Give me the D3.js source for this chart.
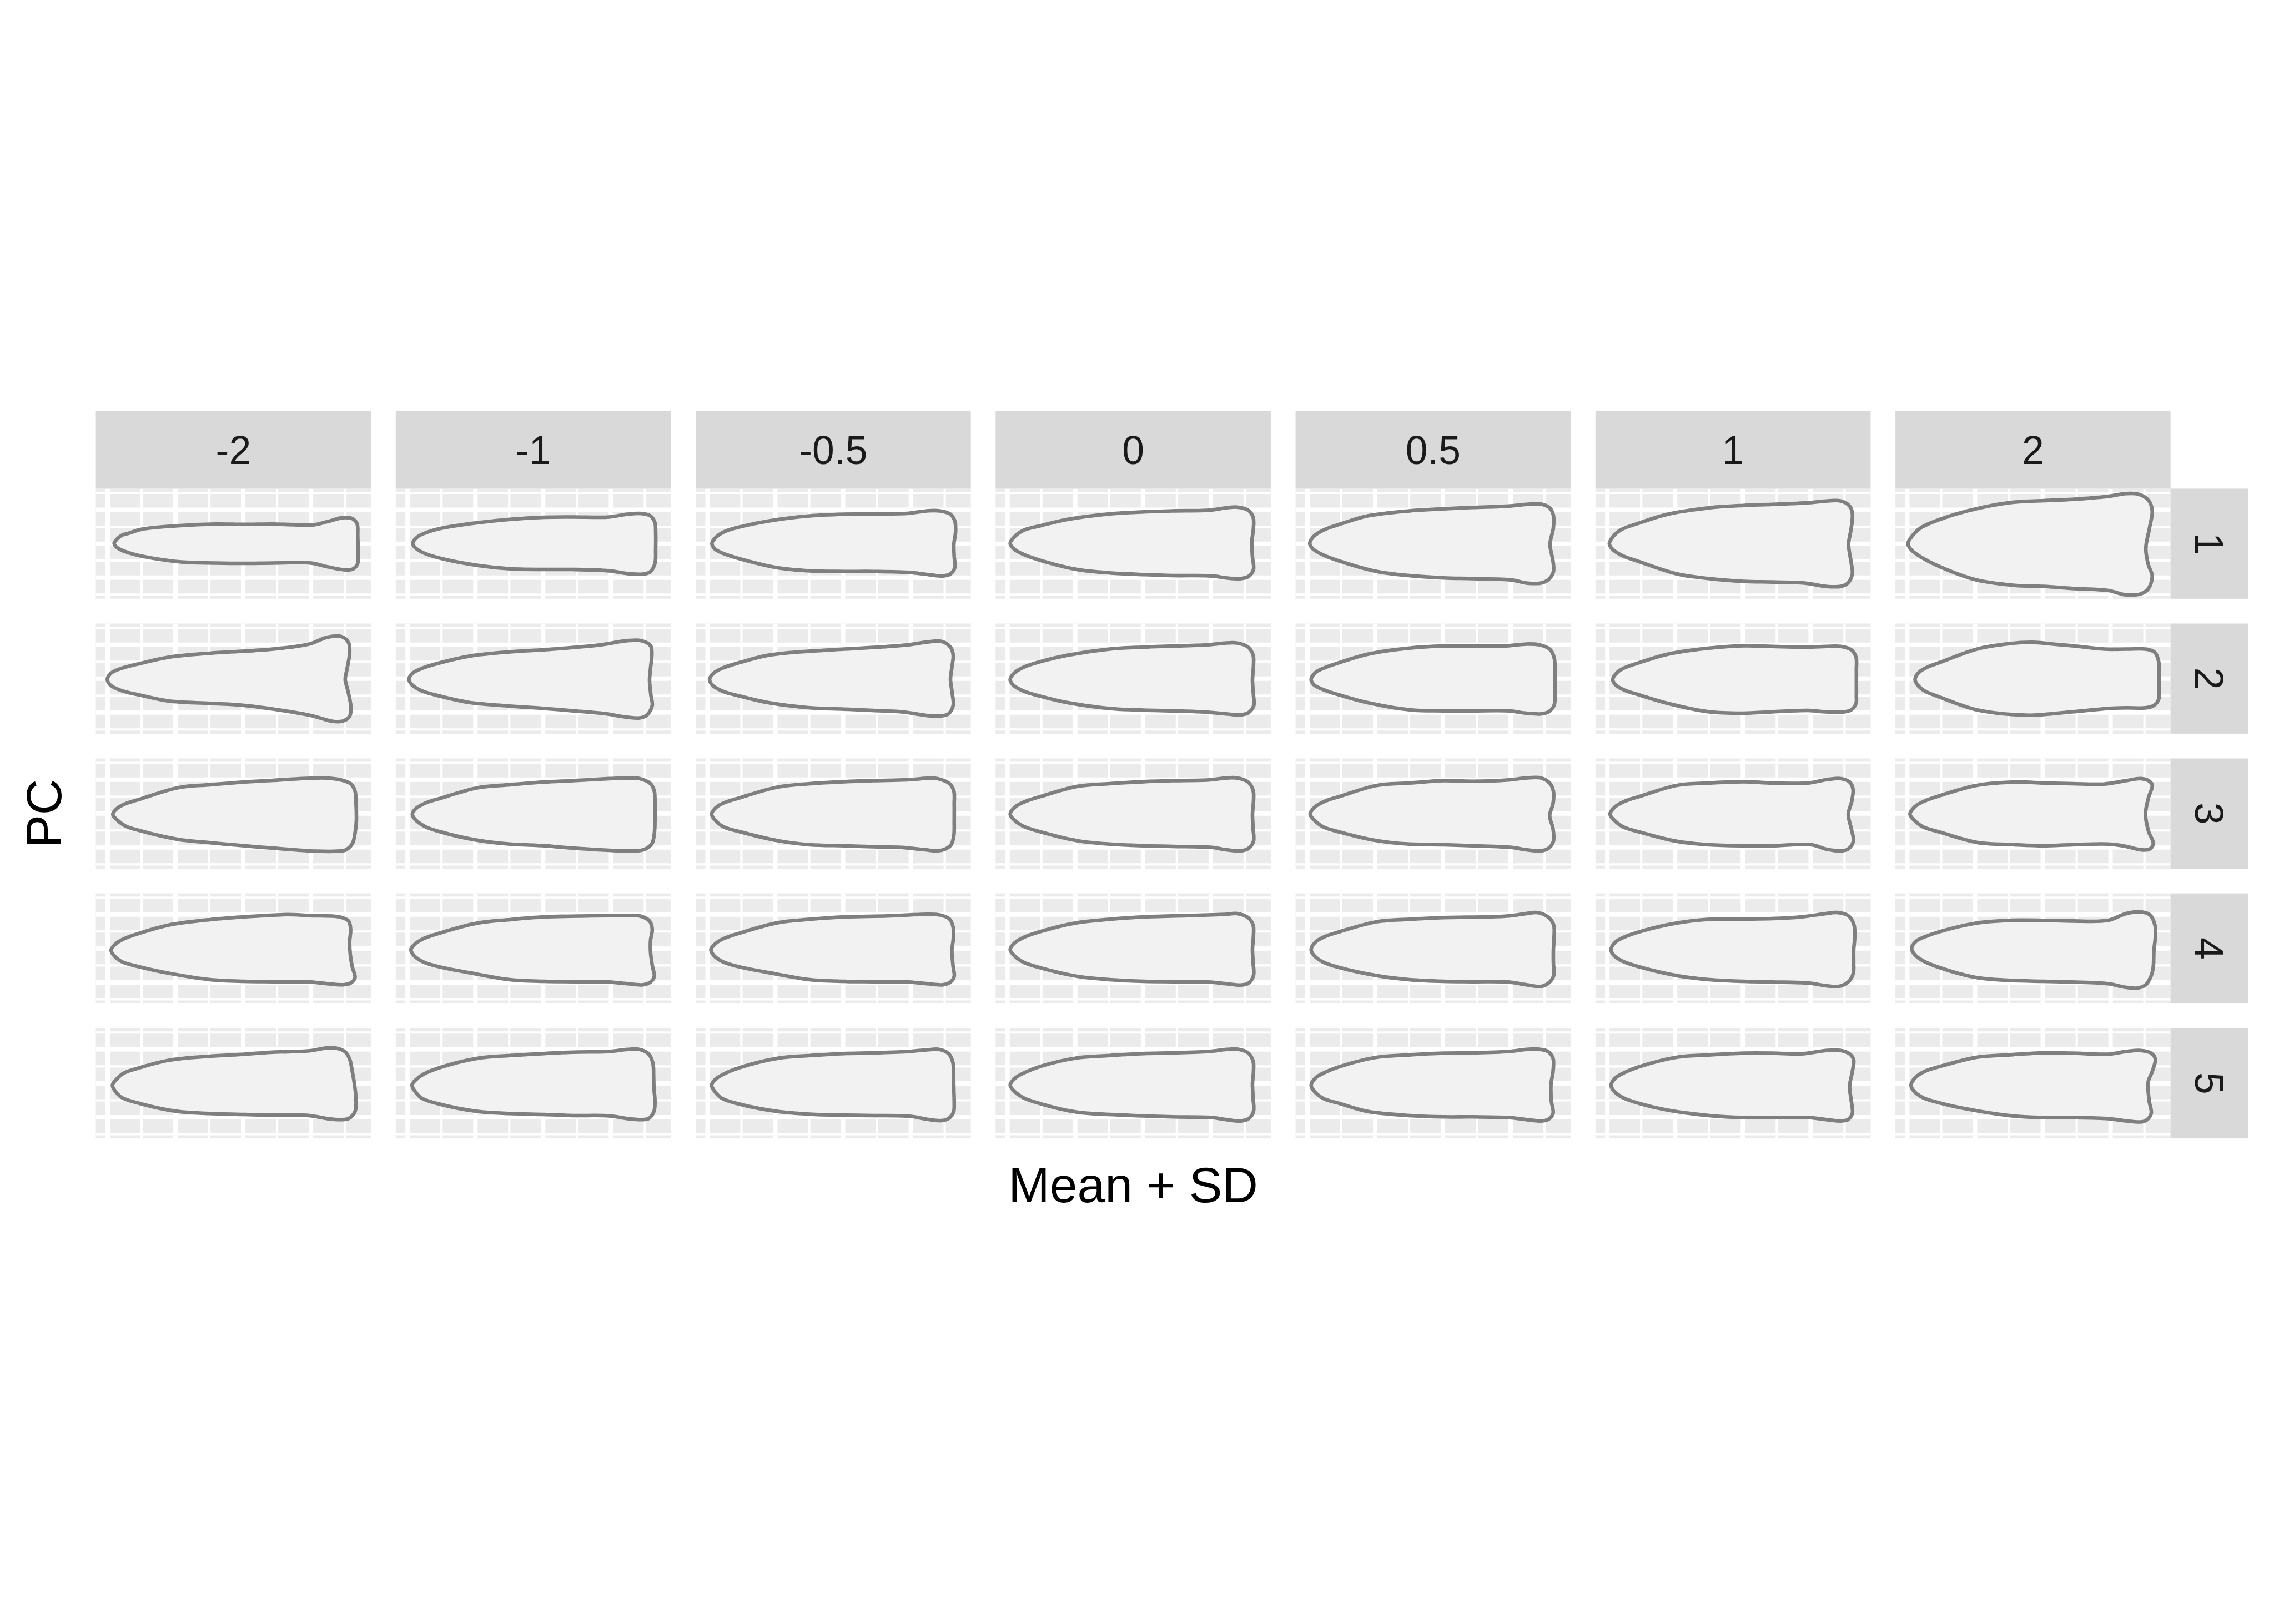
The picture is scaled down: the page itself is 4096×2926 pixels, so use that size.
<!DOCTYPE html>
<html>
<head>
<meta charset="utf-8">
<script src="https://cdn.jsdelivr.net/npm/d3@7"></script>
<style>
  html, body { margin: 0; padding: 0; background: #ffffff; }
  svg { display: block; }
</style>
</head>
<body>
<script>
// ---------------- data ----------------
const sdLevels = ["-2", "-1", "-0.5", "0", "0.5", "1", "2"];
const pcLevels = ["1", "2", "3", "4", "5"];
const xTitle = "Mean + SD";
const yTitle = "PC";

const xDomain = [-4.35, 3.77];
const yDomain = [-1.625, 1.625];
const xMajorBreaks = [-4, -2, 0, 2];
const xMinorBreaks = [-3, -1, 1, 3];
const yMajorBreaks = [-1, 0, 1];
const yMinorBreaks = [-1.5, -0.5, 0.5, 1.5];

// outlines, one per SD level (order of sdLevels), traced as [x, y]
const pc1 = [
  [[-3.81,0.01],[-3.71,0.15],[-3.58,0.25],[-3.37,0.31],[-3.03,0.42],[-1.93,0.53],[-0.82,0.58],[0.03,0.57],[0.88,0.58],[2.10,0.56],[2.48,0.65],[2.95,0.77],[3.22,0.74],[3.36,0.59],[3.38,0.22],[3.39,-0.27],[3.38,-0.58],[3.25,-0.74],[3.01,-0.77],[2.48,-0.68],[2.00,-0.57],[0.88,-0.57],[0.03,-0.58],[-0.82,-0.57],[-1.83,-0.54],[-3.03,-0.36],[-3.37,-0.27],[-3.63,-0.17],[-3.75,-0.09]],
  [[-3.85,0.01],[-3.71,0.20],[-3.47,0.32],[-3.03,0.45],[-1.93,0.62],[-0.98,0.72],[0.03,0.78],[0.88,0.79],[1.95,0.79],[2.48,0.87],[2.90,0.89],[3.17,0.82],[3.30,0.62],[3.32,0.35],[3.32,-0.15],[3.30,-0.58],[3.17,-0.82],[3.01,-0.89],[2.58,-0.89],[1.95,-0.80],[0.88,-0.76],[0.03,-0.76],[-0.98,-0.74],[-1.93,-0.64],[-3.03,-0.43],[-3.53,-0.27],[-3.77,-0.12]],
  [[-3.87,0.01],[-3.74,0.20],[-3.47,0.37],[-3.03,0.50],[-2.20,0.67],[-0.98,0.82],[0.03,0.87],[0.88,0.88],[1.95,0.90],[2.48,0.97],[2.85,0.97],[3.17,0.87],[3.30,0.66],[3.32,0.35],[3.27,-0.02],[3.28,-0.39],[3.30,-0.70],[3.17,-0.89],[2.95,-0.95],[2.58,-0.92],[2.00,-0.85],[0.88,-0.82],[0.03,-0.82],[-0.98,-0.80],[-1.93,-0.71],[-3.03,-0.45],[-3.53,-0.29],[-3.79,-0.15]],
  [[-3.92,0.01],[-3.78,0.22],[-3.49,0.41],[-3.03,0.53],[-2.22,0.72],[-0.99,0.88],[0.02,0.94],[0.87,0.97],[1.93,0.99],[2.46,1.06],[2.78,1.08],[3.10,0.99],[3.25,0.78],[3.26,0.47],[3.21,0.04],[3.23,-0.39],[3.26,-0.76],[3.12,-0.96],[2.89,-1.03],[2.46,-1.01],[2.03,-0.95],[0.87,-0.94],[0.02,-0.91],[-0.99,-0.86],[-1.95,-0.76],[-3.03,-0.49],[-3.54,-0.31],[-3.81,-0.15]],
  [[-3.93,0.01],[-3.81,0.22],[-3.49,0.42],[-3.03,0.58],[-2.22,0.82],[-0.99,0.97],[0.02,1.03],[0.87,1.07],[1.93,1.11],[2.46,1.16],[2.89,1.17],[3.15,1.06],[3.26,0.84],[3.26,0.47],[3.16,-0.02],[3.25,-0.52],[3.26,-0.83],[3.10,-1.07],[2.89,-1.16],[2.46,-1.16],[2.03,-1.07],[0.87,-1.03],[0.02,-1.01],[-0.99,-0.94],[-1.95,-0.82],[-3.03,-0.52],[-3.54,-0.33],[-3.84,-0.15]],
  [[-3.94,0.00],[-3.84,0.20],[-3.60,0.41],[-3.03,0.62],[-2.22,0.87],[-0.99,1.06],[0.02,1.13],[0.87,1.16],[1.93,1.21],[2.46,1.26],[2.89,1.26],[3.15,1.11],[3.23,0.90],[3.20,0.47],[3.12,-0.02],[3.20,-0.58],[3.23,-0.89],[3.10,-1.16],[2.89,-1.26],[2.46,-1.26],[1.82,-1.16],[0.87,-1.13],[0.02,-1.11],[-0.99,-1.03],[-1.95,-0.89],[-3.03,-0.54],[-3.60,-0.33],[-3.86,-0.15]],
  [[-3.98,0.00],[-3.86,0.22],[-3.60,0.47],[-3.03,0.72],[-2.22,0.97],[-0.99,1.21],[0.02,1.27],[0.87,1.31],[1.93,1.40],[2.46,1.48],[2.83,1.46],[3.12,1.28],[3.23,0.97],[3.15,0.47],[3.04,-0.15],[3.12,-0.64],[3.23,-0.95],[3.12,-1.32],[2.89,-1.48],[2.46,-1.51],[1.93,-1.38],[0.87,-1.32],[0.02,-1.26],[-0.83,-1.23],[-1.95,-1.07],[-3.03,-0.68],[-3.60,-0.39],[-3.89,-0.17]]
];

const pc2 = [
  [[-4.01,-0.02],[-3.90,0.16],[-3.63,0.29],[-3.03,0.45],[-2.20,0.63],[-0.98,0.75],[0.03,0.81],[0.88,0.87],[1.95,1.02],[2.48,1.22],[2.90,1.24],[3.11,1.06],[3.14,0.75],[3.06,0.26],[3.01,-0.02],[3.09,-0.36],[3.18,-0.86],[3.14,-1.11],[2.95,-1.25],[2.64,-1.26],[2.05,-1.10],[1.41,-0.98],[0.03,-0.79],[-0.98,-0.73],[-2.20,-0.66],[-3.03,-0.49],[-3.63,-0.34],[-3.93,-0.18]],
  [[-3.96,-0.02],[-3.85,0.16],[-3.58,0.30],[-3.03,0.47],[-2.20,0.66],[-0.98,0.79],[0.03,0.85],[0.88,0.92],[1.73,1.00],[2.48,1.12],[2.90,1.12],[3.17,0.97],[3.21,0.75],[3.17,0.32],[3.14,-0.05],[3.18,-0.49],[3.22,-0.79],[3.06,-1.08],[2.85,-1.16],[2.48,-1.14],[1.79,-1.03],[0.88,-0.95],[0.03,-0.88],[-0.98,-0.81],[-2.20,-0.70],[-3.03,-0.52],[-3.58,-0.36],[-3.87,-0.18]],
  [[-3.94,-0.02],[-3.82,0.16],[-3.58,0.30],[-3.03,0.48],[-2.20,0.69],[-0.98,0.81],[0.03,0.87],[0.88,0.92],[1.95,1.00],[2.48,1.08],[2.90,1.10],[3.17,0.93],[3.25,0.69],[3.21,0.32],[3.17,-0.02],[3.22,-0.42],[3.25,-0.79],[3.11,-1.04],[2.90,-1.10],[2.58,-1.10],[1.73,-0.98],[0.88,-0.94],[0.03,-0.90],[-0.98,-0.86],[-2.20,-0.71],[-3.03,-0.52],[-3.58,-0.36],[-3.87,-0.18]],
  [[-3.92,-0.02],[-3.78,0.18],[-3.49,0.35],[-3.03,0.50],[-2.22,0.69],[-0.99,0.87],[0.02,0.93],[0.87,0.96],[1.93,1.00],[2.46,1.05],[2.78,1.05],[3.10,0.93],[3.25,0.69],[3.26,0.38],[3.23,-0.05],[3.26,-0.49],[3.27,-0.79],[3.12,-1.00],[2.89,-1.07],[2.46,-1.04],[1.72,-0.98],[0.87,-0.95],[0.02,-0.93],[-0.99,-0.88],[-2.22,-0.71],[-3.03,-0.52],[-3.54,-0.36],[-3.84,-0.18]],
  [[-3.89,-0.02],[-3.76,0.18],[-3.49,0.32],[-3.03,0.48],[-2.22,0.72],[-0.99,0.90],[0.02,0.96],[0.87,0.96],[1.93,0.97],[2.46,1.02],[2.83,1.00],[3.15,0.87],[3.28,0.63],[3.31,0.26],[3.31,-0.11],[3.31,-0.49],[3.28,-0.79],[3.12,-0.98],[2.89,-1.04],[2.46,-1.02],[1.93,-0.95],[0.87,-0.95],[0.02,-0.95],[-0.99,-0.92],[-2.22,-0.71],[-3.03,-0.49],[-3.49,-0.34],[-3.81,-0.18]],
  [[-3.84,-0.02],[-3.70,0.19],[-3.49,0.32],[-3.03,0.48],[-2.22,0.72],[-0.99,0.90],[0.02,0.97],[0.87,0.95],[1.93,0.93],[2.46,0.95],[2.89,0.95],[3.20,0.85],[3.34,0.63],[3.35,0.26],[3.35,-0.11],[3.35,-0.49],[3.34,-0.73],[3.20,-0.92],[2.99,-0.98],[2.46,-0.98],[1.93,-0.94],[0.87,-0.98],[0.02,-1.02],[-0.99,-0.98],[-2.22,-0.73],[-3.03,-0.49],[-3.49,-0.34],[-3.76,-0.18]],
  [[-3.77,-0.02],[-3.65,0.19],[-3.38,0.35],[-3.03,0.48],[-1.95,0.87],[-0.99,1.03],[-0.30,1.07],[0.30,1.02],[0.87,0.97],[1.82,0.87],[2.46,0.87],[3.04,0.87],[3.31,0.77],[3.42,0.50],[3.43,0.13],[3.43,-0.24],[3.42,-0.61],[3.28,-0.79],[3.04,-0.86],[2.46,-0.86],[1.93,-0.88],[0.87,-0.98],[0.02,-1.06],[-0.50,-1.08],[-1.95,-0.92],[-3.03,-0.55],[-3.49,-0.36],[-3.70,-0.18]]
];

const pc3 = [
  [[-3.85,-0.02],[-3.71,0.16],[-3.47,0.29],[-3.03,0.43],[-1.93,0.76],[-0.98,0.85],[0.03,0.93],[0.88,0.98],[1.95,1.04],[2.42,1.05],[2.85,1.00],[3.17,0.88],[3.30,0.66],[3.33,0.29],[3.34,-0.21],[3.30,-0.58],[3.22,-0.89],[3.01,-1.08],[2.79,-1.11],[2.16,-1.11],[0.88,-1.02],[0.03,-0.95],[-0.98,-0.86],[-1.93,-0.76],[-3.03,-0.51],[-3.47,-0.37],[-3.74,-0.17]],
  [[-3.86,-0.02],[-3.74,0.16],[-3.47,0.31],[-3.03,0.45],[-1.93,0.76],[-0.98,0.85],[0.03,0.93],[0.88,0.97],[1.95,1.03],[2.48,1.05],[2.85,1.03],[3.17,0.88],[3.28,0.66],[3.30,0.29],[3.30,-0.21],[3.28,-0.60],[3.21,-0.89],[3.01,-1.05],[2.79,-1.10],[2.26,-1.10],[0.88,-1.02],[0.03,-0.95],[-0.98,-0.90],[-1.93,-0.79],[-3.03,-0.54],[-3.47,-0.39],[-3.77,-0.18]],
  [[-3.88,-0.02],[-3.77,0.16],[-3.53,0.31],[-3.03,0.47],[-1.93,0.78],[-0.98,0.88],[0.03,0.94],[0.88,0.97],[1.95,1.00],[2.48,1.04],[2.79,1.03],[3.14,0.88],[3.27,0.66],[3.28,0.29],[3.28,-0.21],[3.27,-0.64],[3.19,-0.92],[3.01,-1.05],[2.79,-1.10],[2.42,-1.07],[1.73,-1.00],[0.88,-0.98],[0.03,-0.95],[-0.98,-0.92],[-1.93,-0.80],[-3.03,-0.54],[-3.53,-0.39],[-3.79,-0.18]],
  [[-3.92,-0.02],[-3.78,0.19],[-3.49,0.35],[-3.03,0.50],[-1.95,0.80],[-0.99,0.88],[0.02,0.94],[0.87,0.97],[1.93,0.99],[2.46,1.05],[2.78,1.05],[3.10,0.93],[3.25,0.68],[3.26,0.35],[3.23,-0.02],[3.25,-0.45],[3.26,-0.82],[3.12,-1.02],[2.89,-1.10],[2.46,-1.07],[2.03,-1.00],[0.87,-0.97],[0.02,-0.95],[-0.99,-0.90],[-1.95,-0.80],[-3.03,-0.54],[-3.54,-0.37],[-3.81,-0.18]],
  [[-3.92,-0.02],[-3.78,0.19],[-3.49,0.36],[-3.03,0.51],[-1.95,0.83],[-0.99,0.90],[0.02,0.97],[0.87,0.95],[1.93,0.99],[2.46,1.05],[2.89,1.05],[3.15,0.90],[3.26,0.66],[3.25,0.29],[3.15,-0.06],[3.25,-0.45],[3.26,-0.82],[3.12,-1.02],[2.89,-1.10],[2.46,-1.07],[2.03,-1.00],[0.87,-0.95],[0.02,-0.92],[-0.99,-0.90],[-1.95,-0.80],[-3.03,-0.55],[-3.54,-0.39],[-3.81,-0.18]],
  [[-3.92,-0.02],[-3.78,0.19],[-3.49,0.36],[-3.03,0.51],[-1.95,0.83],[-0.99,0.90],[0.02,0.94],[0.87,0.90],[1.93,0.90],[2.46,1.00],[2.89,1.03],[3.15,0.93],[3.25,0.72],[3.21,0.35],[3.11,-0.02],[3.20,-0.45],[3.26,-0.82],[3.10,-1.05],[2.89,-1.10],[2.46,-1.05],[2.03,-0.92],[0.87,-0.95],[0.02,-0.95],[-0.99,-0.92],[-1.95,-0.82],[-3.03,-0.55],[-3.54,-0.39],[-3.81,-0.18]],
  [[-3.92,-0.02],[-3.78,0.20],[-3.49,0.37],[-3.03,0.53],[-1.95,0.83],[-0.73,0.93],[0.02,0.90],[0.87,0.88],[1.82,0.87],[2.46,0.97],[2.89,1.03],[3.12,0.97],[3.23,0.84],[3.12,0.47],[3.03,-0.02],[3.12,-0.52],[3.26,-0.89],[3.15,-1.05],[2.89,-1.07],[2.46,-0.97],[1.93,-0.90],[0.87,-0.92],[0.02,-0.95],[-0.83,-0.92],[-1.95,-0.85],[-3.03,-0.55],[-3.54,-0.39],[-3.81,-0.18]]
];

const pc4 = [
  [[-3.90,-0.05],[-3.77,0.13],[-3.53,0.28],[-3.03,0.46],[-2.20,0.69],[-0.98,0.85],[0.03,0.93],[1.31,1.00],[1.95,0.97],[2.85,0.93],[3.11,0.81],[3.17,0.56],[3.14,0.19],[3.16,-0.18],[3.22,-0.55],[3.30,-0.86],[3.17,-1.02],[2.95,-1.07],[2.48,-1.04],[2.00,-0.99],[0.88,-0.98],[0.03,-0.97],[-0.98,-0.92],[-2.20,-0.73],[-3.03,-0.55],[-3.58,-0.39],[-3.82,-0.20]],
  [[-3.90,-0.03],[-3.77,0.14],[-3.53,0.29],[-3.03,0.46],[-1.93,0.75],[-0.98,0.85],[0.03,0.93],[1.31,0.96],[2.48,0.97],[2.85,0.96],[3.14,0.81],[3.22,0.56],[3.17,0.25],[3.17,-0.12],[3.23,-0.55],[3.28,-0.82],[3.17,-0.99],[2.95,-1.07],[2.48,-1.04],[1.95,-0.99],[0.88,-0.98],[0.03,-0.97],[-0.98,-0.92],[-2.20,-0.71],[-3.03,-0.55],[-3.53,-0.40],[-3.82,-0.20]],
  [[-3.90,-0.03],[-3.77,0.14],[-3.53,0.29],[-3.03,0.46],[-1.93,0.76],[-0.98,0.86],[0.03,0.93],[1.31,0.96],[2.48,1.01],[2.85,0.99],[3.14,0.87],[3.25,0.62],[3.25,0.25],[3.21,-0.05],[3.25,-0.55],[3.28,-0.82],[3.17,-0.99],[2.95,-1.07],[2.48,-1.04],[1.95,-0.99],[0.88,-0.98],[0.03,-0.97],[-0.98,-0.92],[-2.20,-0.71],[-3.03,-0.55],[-3.53,-0.40],[-3.82,-0.20]],
  [[-3.92,-0.03],[-3.78,0.17],[-3.49,0.34],[-3.03,0.50],[-1.95,0.76],[-0.99,0.86],[0.02,0.93],[1.29,0.97],[2.46,1.01],[2.78,1.03],[3.10,0.91],[3.25,0.69],[3.26,0.38],[3.23,-0.03],[3.25,-0.42],[3.26,-0.80],[3.12,-1.02],[2.89,-1.08],[2.46,-1.04],[1.93,-0.99],[0.87,-0.98],[0.02,-0.97],[-0.99,-0.92],[-1.95,-0.82],[-3.03,-0.57],[-3.54,-0.40],[-3.81,-0.20]],
  [[-3.89,-0.03],[-3.76,0.19],[-3.49,0.35],[-3.03,0.50],[-1.95,0.79],[-0.99,0.86],[0.02,0.91],[1.29,0.93],[1.93,0.96],[2.46,1.03],[2.78,1.06],[3.10,0.93],[3.27,0.69],[3.28,0.32],[3.26,-0.05],[3.26,-0.42],[3.27,-0.80],[3.12,-1.02],[2.89,-1.12],[2.46,-1.07],[1.93,-0.99],[0.87,-0.98],[0.02,-0.97],[-0.99,-0.92],[-1.95,-0.80],[-3.03,-0.57],[-3.54,-0.40],[-3.81,-0.20]],
  [[-3.89,-0.03],[-3.76,0.19],[-3.49,0.34],[-3.03,0.50],[-1.95,0.75],[-0.99,0.86],[0.02,0.87],[0.87,0.88],[1.72,0.93],[2.46,1.03],[2.78,1.06],[3.12,0.96],[3.28,0.69],[3.30,0.32],[3.27,-0.05],[3.27,-0.42],[3.26,-0.73],[3.12,-0.98],[2.83,-1.12],[2.46,-1.10],[1.93,-1.02],[0.87,-0.99],[0.02,-0.97],[-0.99,-0.92],[-1.95,-0.80],[-3.03,-0.55],[-3.54,-0.38],[-3.81,-0.20]],
  [[-3.87,0.01],[-3.73,0.22],[-3.49,0.34],[-3.03,0.50],[-1.95,0.75],[-0.99,0.83],[0.02,0.83],[0.87,0.81],[1.93,0.83],[2.46,1.03],[2.89,1.08],[3.15,1.00],[3.31,0.69],[3.32,0.32],[3.28,-0.05],[3.26,-0.55],[3.20,-0.80],[3.04,-1.07],[2.78,-1.17],[2.41,-1.14],[1.93,-1.04],[0.87,-0.99],[0.02,-0.97],[-0.99,-0.94],[-1.95,-0.86],[-3.03,-0.57],[-3.54,-0.36],[-3.78,-0.18]]
];

const pc5 = [
  [[-3.86,-0.05],[-3.74,0.12],[-3.53,0.30],[-3.03,0.47],[-2.20,0.68],[-0.98,0.80],[0.03,0.86],[0.88,0.92],[1.95,0.96],[2.42,1.04],[2.74,1.04],[3.01,0.93],[3.14,0.72],[3.22,0.35],[3.30,-0.15],[3.33,-0.52],[3.30,-0.83],[3.11,-1.04],[2.90,-1.07],[2.48,-1.04],[1.95,-0.95],[0.88,-0.94],[0.03,-0.92],[-0.98,-0.89],[-1.93,-0.83],[-3.03,-0.60],[-3.58,-0.42],[-3.79,-0.21]],
  [[-3.87,-0.05],[-3.74,0.12],[-3.53,0.27],[-3.03,0.47],[-1.93,0.74],[-0.98,0.82],[0.03,0.88],[0.88,0.92],[1.95,0.94],[2.48,1.00],[2.85,1.00],[3.11,0.87],[3.24,0.59],[3.26,0.22],[3.27,-0.15],[3.30,-0.52],[3.27,-0.83],[3.11,-1.04],[2.90,-1.07],[2.48,-1.04],[1.95,-0.96],[0.88,-0.95],[0.03,-0.92],[-0.98,-0.89],[-1.93,-0.83],[-3.03,-0.62],[-3.58,-0.44],[-3.79,-0.22]],
  [[-3.88,-0.05],[-3.77,0.12],[-3.53,0.27],[-3.03,0.47],[-1.93,0.74],[-0.98,0.82],[0.03,0.88],[0.88,0.90],[1.95,0.94],[2.48,0.99],[2.85,1.00],[3.11,0.88],[3.24,0.62],[3.26,0.22],[3.27,-0.21],[3.28,-0.58],[3.26,-0.85],[3.11,-1.04],[2.90,-1.10],[2.48,-1.06],[1.95,-0.97],[0.88,-0.95],[0.03,-0.94],[-0.98,-0.91],[-1.93,-0.83],[-3.03,-0.62],[-3.58,-0.44],[-3.80,-0.22]],
  [[-3.92,-0.05],[-3.78,0.15],[-3.49,0.32],[-3.03,0.50],[-1.95,0.75],[-0.99,0.82],[0.02,0.88],[0.87,0.90],[1.93,0.94],[2.46,1.00],[2.78,1.01],[3.10,0.90],[3.25,0.65],[3.26,0.35],[3.23,-0.02],[3.25,-0.45],[3.26,-0.83],[3.12,-1.04],[2.89,-1.11],[2.46,-1.07],[2.03,-1.01],[0.87,-0.99],[0.02,-0.96],[-0.99,-0.92],[-1.95,-0.85],[-3.03,-0.60],[-3.54,-0.42],[-3.81,-0.22]],
  [[-3.89,-0.05],[-3.76,0.16],[-3.49,0.32],[-3.03,0.50],[-1.95,0.77],[-0.99,0.84],[0.02,0.89],[0.87,0.90],[1.93,0.94],[2.46,1.00],[2.78,1.01],[3.10,0.94],[3.25,0.74],[3.25,0.35],[3.19,-0.02],[3.20,-0.52],[3.25,-0.89],[3.10,-1.07],[2.89,-1.11],[2.46,-1.07],[1.93,-1.01],[0.87,-0.99],[0.02,-0.99],[-0.99,-0.95],[-2.22,-0.83],[-3.03,-0.60],[-3.54,-0.44],[-3.81,-0.22]],
  [[-3.89,-0.05],[-3.76,0.16],[-3.49,0.32],[-3.03,0.50],[-1.95,0.77],[-0.99,0.84],[0.02,0.89],[0.87,0.89],[1.72,0.87],[2.46,0.97],[2.89,0.97],[3.15,0.87],[3.27,0.69],[3.23,0.35],[3.15,-0.09],[3.20,-0.52],[3.23,-0.89],[3.10,-1.07],[2.89,-1.11],[2.46,-1.07],[1.93,-1.01],[0.87,-1.01],[0.02,-1.01],[-0.99,-0.95],[-2.22,-0.79],[-3.03,-0.60],[-3.54,-0.42],[-3.81,-0.22]],
  [[-3.89,-0.05],[-3.76,0.17],[-3.49,0.35],[-3.03,0.50],[-1.95,0.77],[-0.99,0.84],[0.02,0.90],[0.87,0.89],[1.93,0.86],[2.46,0.94],[2.89,0.97],[3.20,0.89],[3.32,0.72],[3.23,0.35],[3.11,0.04],[3.14,-0.52],[3.20,-0.89],[3.04,-1.10],[2.89,-1.14],[2.46,-1.11],[1.93,-1.04],[0.87,-1.01],[0.02,-1.01],[-0.99,-0.95],[-2.22,-0.76],[-3.03,-0.58],[-3.54,-0.42],[-3.81,-0.22]]
];

const pcShapes = [pc1, pc2, pc3, pc4, pc5];

// ---------------- layout (reference pixels, scaled by 0.975) ----------------
const S = 0.975;
const panelW = 508.3, panelH = 203.5, spacing = 45.8;
const left0 = 177, top0 = 903, stripSize = 143;
const colStep = panelW + spacing, rowStep = panelH + spacing;
const FONT = "'Liberation Sans', Arial, Helvetica, sans-serif";
const stripFont = 73.3, titleFont = 91.7;

const svg = d3.select("body").append("svg")
  .attr("width", 4096).attr("height", 2926);
svg.append("rect").attr("width", 4096).attr("height", 2926).attr("fill", "#ffffff");
const root = svg.append("g").attr("transform", `scale(${S})`);

const x = d3.scaleLinear().domain(xDomain).range([0, panelW]);
const y = d3.scaleLinear().domain(yDomain).range([panelH, 0]);
const outline = d3.line().x(d => x(d[0])).y(d => y(d[1]))
  .curve(d3.curveCatmullRomClosed.alpha(0.5));

pcLevels.forEach((pc, r) => {
  sdLevels.forEach((sd, c) => {
    const g = root.append("g")
      .attr("transform", `translate(${left0 + c * colStep},${top0 + r * rowStep})`);
    g.append("rect").attr("width", panelW).attr("height", panelH).attr("fill", "#EBEBEB");
    // minor grid
    g.selectAll("line.vminor").data(xMinorBreaks).enter().append("line")
      .attr("x1", d => x(d)).attr("x2", d => x(d)).attr("y1", 0).attr("y2", panelH)
      .attr("stroke", "#ffffff").attr("stroke-width", 4.2);
    g.selectAll("line.hminor").data(yMinorBreaks).enter().append("line")
      .attr("y1", d => y(d)).attr("y2", d => y(d)).attr("x1", 0).attr("x2", panelW)
      .attr("stroke", "#ffffff").attr("stroke-width", 4.2);
    // major grid
    g.selectAll("line.vmajor").data(xMajorBreaks).enter().append("line")
      .attr("x1", d => x(d)).attr("x2", d => x(d)).attr("y1", 0).attr("y2", panelH)
      .attr("stroke", "#ffffff").attr("stroke-width", 8.2);
    g.selectAll("line.hmajor").data(yMajorBreaks).enter().append("line")
      .attr("y1", d => y(d)).attr("y2", d => y(d)).attr("x1", 0).attr("x2", panelW)
      .attr("stroke", "#ffffff").attr("stroke-width", 8.2);
    // outline
    g.append("path").attr("d", outline(pcShapes[r][c]))
      .attr("fill", "#F2F2F2").attr("stroke", "#7F7F7F")
      .attr("stroke-width", 6.7).attr("stroke-linejoin", "round");
  });
});

// top strips
sdLevels.forEach((sd, c) => {
  const sx = left0 + c * colStep;
  root.append("rect").attr("x", sx).attr("y", top0 - stripSize)
    .attr("width", panelW).attr("height", stripSize).attr("fill", "#D9D9D9");
  root.append("text").attr("x", sx + panelW / 2)
    .attr("y", top0 - stripSize / 2 + 0.358 * stripFont)
    .attr("text-anchor", "middle").attr("font-family", FONT)
    .attr("font-size", stripFont).attr("fill", "#1A1A1A").text(sd);
});

// right strips
const stripX = left0 + 6 * colStep + panelW;
pcLevels.forEach((pc, r) => {
  const sy = top0 + r * rowStep;
  root.append("rect").attr("x", stripX).attr("y", sy)
    .attr("width", stripSize).attr("height", panelH).attr("fill", "#D9D9D9");
  root.append("text")
    .attr("transform", `translate(${stripX + stripSize / 2},${sy + panelH / 2}) rotate(90)`)
    .attr("x", 0).attr("y", 0.358 * stripFont)
    .attr("text-anchor", "middle").attr("font-family", FONT)
    .attr("font-size", stripFont).attr("fill", "#1A1A1A").text(pc);
});

// axis titles
const plotRight = left0 + 6 * colStep + panelW;
const plotBottom = top0 + 4 * rowStep + panelH;
root.append("text").attr("x", (left0 + plotRight) / 2).attr("y", 2221.7)
  .attr("text-anchor", "middle").attr("font-family", FONT)
  .attr("font-size", titleFont).attr("fill", "#000000").text(xTitle);
root.append("text")
  .attr("transform", `translate(113.3,${(top0 + plotBottom) / 2}) rotate(-90)`)
  .attr("text-anchor", "middle").attr("font-family", FONT)
  .attr("font-size", titleFont).attr("fill", "#000000").text(yTitle);
</script>
</body>
</html>
